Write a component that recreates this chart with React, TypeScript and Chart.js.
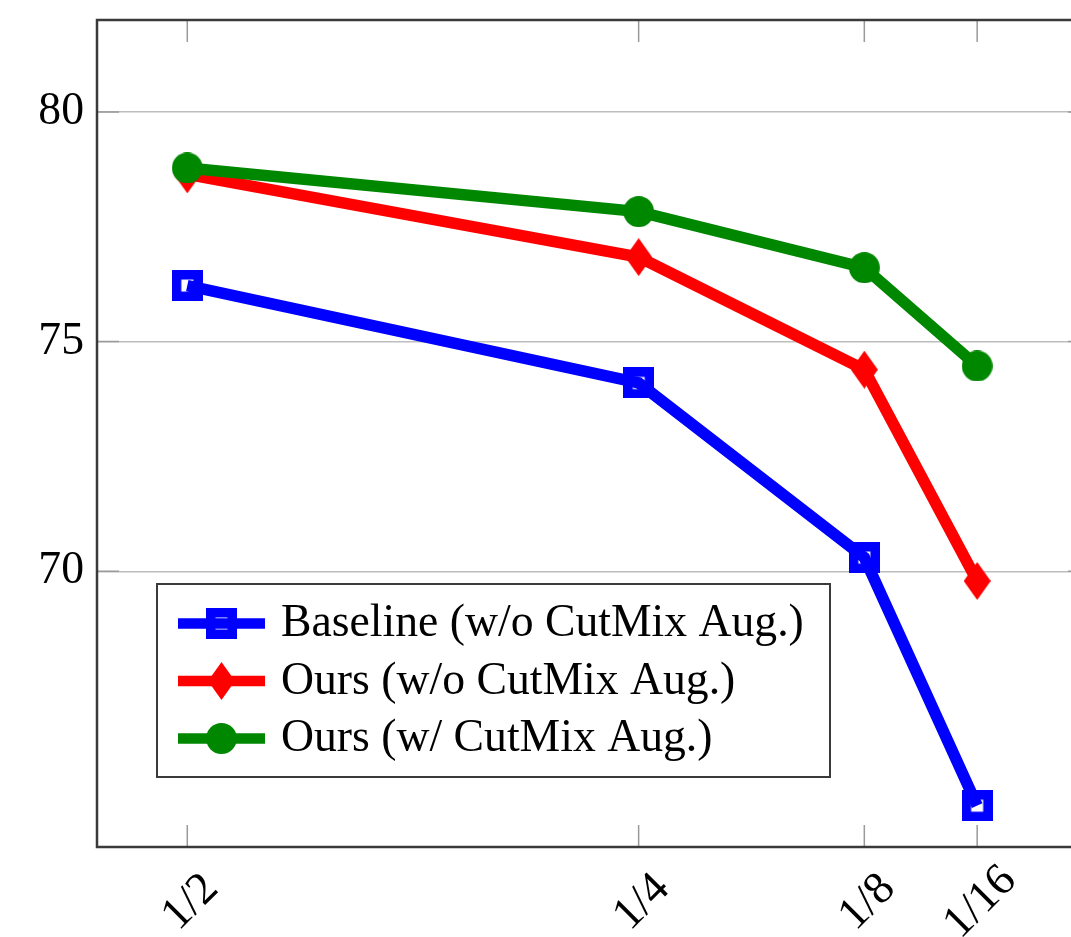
import React, { useEffect, useRef } from 'react';
import { Chart, registerables } from 'chart.js';

Chart.register(...registerables);

// ---- data ----
const xValues = [0.5, 0.25, 0.125, 0.0625];
const xTickLabels = ['1/2', '1/4', '1/8', '1/16'];
const yTickValues = [70, 75, 80];
const seriesLabels = [
  'Baseline (w/o CutMix Aug.)',
  'Ours (w/o CutMix Aug.)',
  'Ours (w/ CutMix Aug.)',
];
const baselineValues = [76.22, 74.1, 70.3, 64.9];
const oursNoCutMixValues = [78.64, 76.84, 74.39, 69.79];
const oursCutMixValues = [78.78, 77.83, 76.61, 74.47];
const seriesColors = ['#0000ff', '#ff0000', 'rgb(0,135,0)'];

const FONT = '"Liberation Serif", "Times New Roman", Times, serif';
const FONT_SIZE = 45.7;

function squareMarker(color: string) {
  const c = document.createElement('canvas');
  c.width = 31;
  c.height = 31;
  const ctx = c.getContext('2d')!;
  ctx.strokeStyle = color;
  ctx.lineWidth = 9.5;
  ctx.strokeRect(4.75, 4.75, 21.5, 21.5);
  return c;
}

function diamondMarker(color: string) {
  const c = document.createElement('canvas');
  c.width = 27;
  c.height = 38;
  const ctx = c.getContext('2d')!;
  ctx.fillStyle = color;
  ctx.beginPath();
  ctx.moveTo(13.5, 0);
  ctx.lineTo(27, 19);
  ctx.lineTo(13.5, 38);
  ctx.lineTo(0, 19);
  ctx.closePath();
  ctx.fill();
  return c;
}

function circleMarker(color: string) {
  const c = document.createElement('canvas');
  c.width = 31;
  c.height = 31;
  const ctx = c.getContext('2d')!;
  ctx.fillStyle = color;
  ctx.beginPath();
  ctx.arc(15.5, 15.5, 15.4, 0, Math.PI * 2);
  ctx.fill();
  return c;
}

const framePlugin = {
  id: 'frameTicks',
  afterDatasetsDraw(chart: any) {
    const { ctx, chartArea } = chart;
    const { left, right, top, bottom } = chartArea;
    const xs = chart.scales.x;
    const ys = chart.scales.y;
    ctx.save();
    ctx.strokeStyle = '#9a9a9a';
    ctx.lineWidth = 1.5;
    const tl = 22;
    ctx.beginPath();
    xValues.forEach((v) => {
      const px = xs.getPixelForValue(v);
      ctx.moveTo(px, top);
      ctx.lineTo(px, top + tl);
      ctx.moveTo(px, bottom);
      ctx.lineTo(px, bottom - tl);
    });
    yTickValues.forEach((v) => {
      const py = ys.getPixelForValue(v);
      ctx.moveTo(left, py);
      ctx.lineTo(left + tl, py);
      ctx.moveTo(right, py);
      ctx.lineTo(right - tl, py);
    });
    ctx.stroke();
    ctx.strokeStyle = '#3a3a3a';
    ctx.lineWidth = 2.5;
    ctx.strokeRect(left, top, right - left, bottom - top);
    ctx.restore();
  },
  afterDraw(chart: any) {
    const { ctx, chartArea } = chart;
    const xs = chart.scales.x;
    ctx.save();
    // x tick labels, rotated 45 degrees
    ctx.fillStyle = '#000';
    ctx.font = `${FONT_SIZE}px ${FONT}`;
    ctx.textAlign = 'center';
    ctx.textBaseline = 'alphabetic';
    xValues.forEach((v, i) => {
      const px = xs.getPixelForValue(v);
      ctx.save();
      ctx.translate(px + 1, chartArea.bottom + 53);
      ctx.rotate(-Math.PI / 4);
      ctx.fillText(xTickLabels[i], 0, FONT_SIZE * 0.676 / 2);
      ctx.restore();
    });

    // legend box
    const bx = chartArea.left + 60;
    const by = 584;
    const bw = 673;
    const bh = 193;
    ctx.fillStyle = '#fff';
    ctx.fillRect(bx, by, bw, bh);
    ctx.strokeStyle = '#3a3a3a';
    ctx.lineWidth = 2;
    ctx.strokeRect(bx, by, bw, bh);
    const rowStep = 57.5;
    chart.data.datasets.forEach((ds: any, i: number) => {
      const cy = by + 39.5 + i * rowStep;
      ctx.strokeStyle = ds.borderColor;
      ctx.lineWidth = 10.7;
      ctx.lineCap = 'butt';
      ctx.beginPath();
      ctx.moveTo(bx + 21, cy);
      ctx.lineTo(bx + 108, cy);
      ctx.stroke();
      const m = ds.pointStyle as HTMLCanvasElement;
      const mx = bx + 64.5;
      ctx.drawImage(m, Math.round(mx - m.width / 2), Math.round(cy - m.height / 2));
      ctx.fillStyle = '#000';
      ctx.textAlign = 'left';
      ctx.textBaseline = 'alphabetic';
      ctx.fillText(ds.label, bx + 124, cy + 12.5);
    });
    ctx.restore();
  },
};

export default function App() {
  const canvasRef = useRef<HTMLCanvasElement | null>(null);

  useEffect(() => {
    const canvas = canvasRef.current;
    if (!canvas) return;
    const markers = [
      squareMarker(seriesColors[0]),
      diamondMarker(seriesColors[1]),
      circleMarker(seriesColors[2]),
    ];
    const seriesValues = [baselineValues, oursNoCutMixValues, oursCutMixValues];
    const chart = new Chart(canvas, {
      type: 'line',
      data: {
        datasets: seriesValues.map((vals, i) => ({
          label: seriesLabels[i],
          data: xValues.map((x, j) => ({ x, y: vals[j] })),
          borderColor: seriesColors[i],
          backgroundColor: seriesColors[i],
          borderWidth: 11.5,
          pointStyle: markers[i],
          pointRadius: 15,
          pointHoverRadius: 15,
          tension: 0,
          fill: false,
          order: 3 - i,
          clip: false as any,
        })),
      },
      options: {
        responsive: false,
        animation: false,
        devicePixelRatio: 1,
        layout: { autoPadding: false, padding: { top: 20, right: 10, left: 0, bottom: 0 } },
        plugins: {
          legend: { display: false },
          tooltip: { enabled: false },
          title: { display: false },
        },
        events: [],
        scales: {
          x: {
            type: 'linear',
            min: 0,
            max: 0.55,
            reverse: true,
            grid: { display: false },
            border: { display: false },
            ticks: { display: false },
            afterFit: (s: any) => {
              s.height = 90;
              s.paddingLeft = 0;
              s.paddingRight = 0;
              s.paddingTop = 0;
              s.paddingBottom = 0;
            },
          },
          y: {
            type: 'linear',
            min: 64,
            max: 82,
            afterBuildTicks: (s: any) => {
              s.ticks = yTickValues.map((v) => ({ value: v }));
            },
            grid: { color: '#bdbdbd', lineWidth: 1.5, drawTicks: false },
            border: { display: false },
            ticks: {
              color: '#000',
              padding: 13,
              font: { family: FONT, size: FONT_SIZE },
              callback: (v: any) => String(v),
            },
            afterFit: (s: any) => {
              s.width = 97;
              s.paddingLeft = 0;
              s.paddingRight = 0;
              s.paddingTop = 0;
              s.paddingBottom = 0;
            },
          },
        },
      },
      plugins: [framePlugin],
    });
    return () => chart.destroy();
  }, []);

  return (
    <div
      style={{
        position: 'fixed',
        left: 0,
        top: 0,
        width: 1071,
        height: 937,
        overflow: 'hidden',
        background: '#fff',
      }}
    >
      <canvas ref={canvasRef} width={1100} height={937} style={{ display: 'block' }} />
    </div>
  );
}
